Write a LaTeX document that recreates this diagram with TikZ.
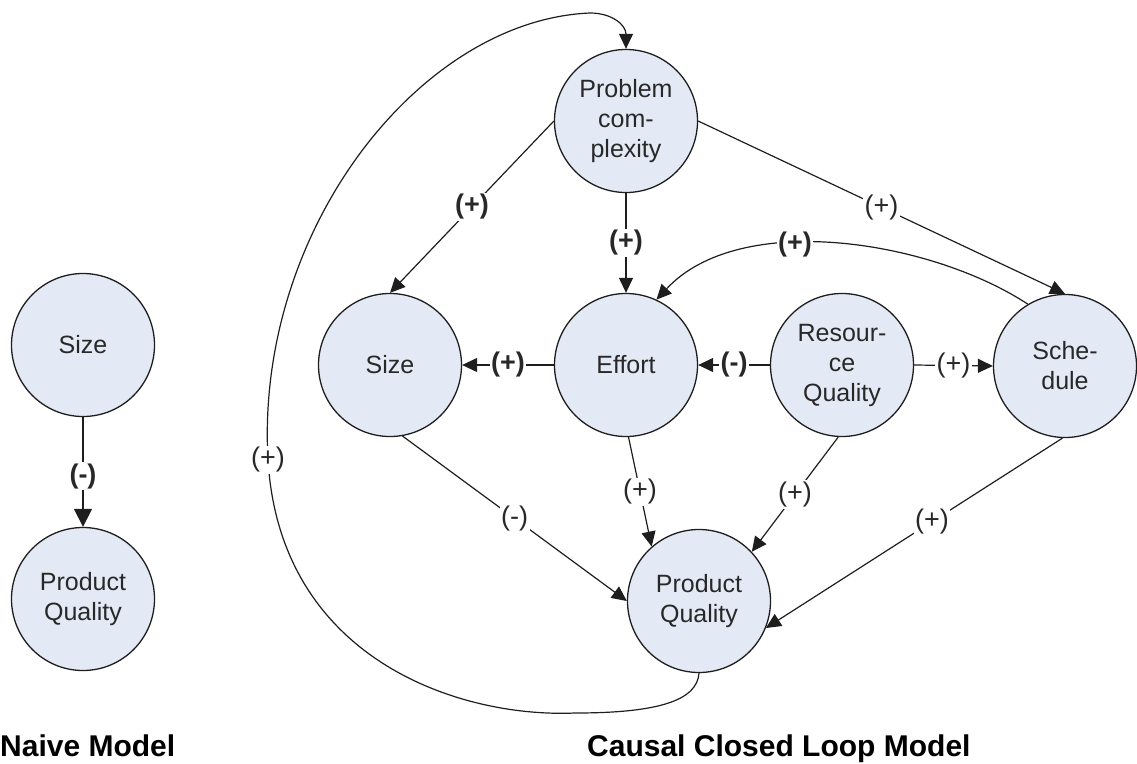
\documentclass[tikz,border=0pt]{standalone}
\usepackage{fontspec}
\setmainfont{Liberation Sans}
\usetikzlibrary{arrows.meta}
\definecolor{nodefill}{RGB}{228,234,245}
\definecolor{ink}{RGB}{40,40,40}
\definecolor{edgeclr}{RGB}{30,30,30}

\begin{document}
\begin{tikzpicture}[x=1pt,y=-1pt,
  var/.style={circle, draw=edgeclr, line width=1.3pt, fill=nodefill,
    minimum size=143pt, inner sep=0pt, align=center, text=ink,
    font=\fontsize{25}{30}\selectfont},
  link/.style={draw=edgeclr, line width=1.2pt,
    -{Triangle[length=15pt,width=14pt]}},
  biglink/.style={link, -{Triangle[length=18pt,width=18pt]}},
  lbl/.style={fill=white, inner sep=1.5pt, text=ink,
    font=\fontsize{27}{30}\selectfont},
  blbl/.style={lbl, font=\fontsize{27}{30}\selectfont\bfseries},
  caption/.style={anchor=base west, inner sep=0pt, text=black,
    font=\fontsize{30}{34}\selectfont\bfseries}]

\useasboundingbox (0,0) rectangle (1137,763);

% ---- naive model ----
\node[var] (nsize) at (83,345) {Size};
\node[var] (npq)   at (83,599) {Product\\Quality};
\draw[biglink] (nsize.south) -- node[blbl, pos=0.54] {(-)} (npq.north);

% ---- causal closed loop model ----
\node[var] (pc)    at (626,121)  {Problem\\com-\\plexity};
\node[var] (size)  at (390,365)  {Size};
\node[var] (eff)   at (626,365)  {Effort};
\node[var] (res)   at (842,365)  {Resour-\\ce\\Quality};
\node[var] (sched) at (1065,366) {Sche-\\dule};
\node[var] (pq)    at (699,601)  {Product\\Quality};

\draw[link] (pc.west) -- node[blbl] {(+)} (size.north);
\draw[link] (pc.south) -- node[blbl] {(+)} (eff.north);
\draw[link] (pc.east) -- node[lbl] {(+)} (sched.north);

\draw[link] (sched.121) .. controls (930,240) and (740,210) .. node[blbl, pos=0.6] {(+)} (eff.65);

\draw[link] (eff.west) -- node[blbl] {(+)} (size.east);
\draw[link] (res.west) -- node[blbl] {(-)} (eff.east);
\draw[link] (res.east) -- node[lbl] {(+)} (sched.west);

\draw[link] (size.280) -- node[lbl] {(-)} (pq.west);
\draw[link] (eff.272) -- node[lbl] {(+)} (pq.131);
\draw[link] (res.267) -- node[lbl] {(+)} (pq.43);
\draw[link] (sched.268) -- node[lbl, pos=0.44] {(+)} (pq.338);

% feedback loop from product quality back to problem complexity
\draw[link] (pq.south) .. controls (697,700) and (660,713) .. (575,713)
  .. controls (460,718) and (280,660) .. (268,460) node[lbl] {(+)}
  .. controls (255,230) and (420,20) .. (590,13)
  .. controls (612,13) and (626,25) .. (pc.north);

% captions
\node[caption] (cap1) at (0,756) {Naive Model};
\node[caption] (cap2) at (587,756) {Causal Closed Loop Model};
\end{tikzpicture}
\end{document}
